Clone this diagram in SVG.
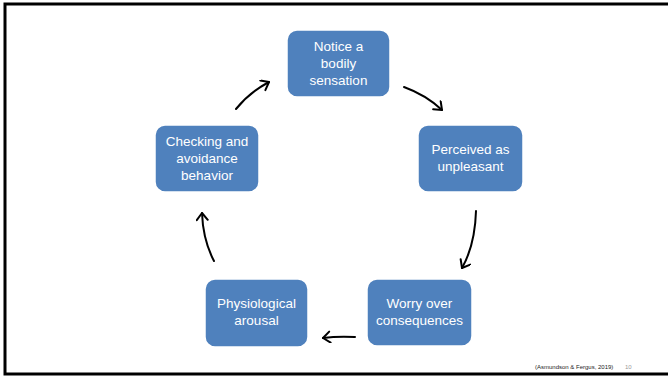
<svg xmlns="http://www.w3.org/2000/svg" width="668" height="378" viewBox="0 0 668 378">
<defs>
<style>
.box{fill:#4f81bd;stroke:#ffffff;stroke-width:1.5}
.lbl{font-family:"Liberation Sans",Arial,sans-serif;font-size:13.5px;fill:#ffffff;text-anchor:middle}
.arr{fill:none;stroke:#000000;stroke-width:2;stroke-linecap:round;marker-end:url(#ah)}
.foot{font-family:"Liberation Sans",Arial,sans-serif;font-size:6px;fill:#222222}
</style>
<marker id="ah" markerUnits="userSpaceOnUse" markerWidth="14" markerHeight="14" refX="9" refY="6" orient="auto">
<path d="M2,0.5 L9,6 L2,11.5" fill="none" stroke="#000000" stroke-width="2" stroke-linecap="round" stroke-linejoin="round"/>
</marker>
</defs>
<rect x="0" y="0" width="668" height="378" fill="#ffffff"/>
<rect x="5" y="4" width="700" height="370" fill="none" stroke="#000000" stroke-width="3"/>
<g id="n1"><rect class="box" x="287" y="30" width="103" height="67" rx="10"/>
<text class="lbl" x="338.5" y="51">Notice a</text><text class="lbl" x="338.5" y="68">bodily</text><text class="lbl" x="338.5" y="85">sensation</text></g>
<g id="n2"><rect class="box" x="418" y="125" width="105" height="67" rx="10"/>
<text class="lbl" x="470.5" y="154">Perceived as</text><text class="lbl" x="470.5" y="171">unpleasant</text></g>
<g id="n3"><rect class="box" x="367" y="279" width="105" height="67" rx="10"/>
<text class="lbl" x="419.5" y="308">Worry over</text><text class="lbl" x="419.5" y="325">consequences</text></g>
<g id="n4"><rect class="box" x="205" y="279" width="103" height="68" rx="10"/>
<text class="lbl" x="256.5" y="308">Physiological</text><text class="lbl" x="256.5" y="325">arousal</text></g>
<g id="n5"><rect class="box" x="155" y="125" width="104" height="67" rx="10"/>
<text class="lbl" x="207" y="146">Checking and</text><text class="lbl" x="207" y="163">avoidance</text><text class="lbl" x="207" y="180">behavior</text></g>
<g id="connectors">
<path class="arr" d="M404,87 Q426,95 442,110"/>
<path class="arr" d="M476,211 Q475,245 462,268"/>
<path class="arr" d="M355,337 Q338,336 323,338"/>
<path class="arr" d="M214,261 Q203,240 202,213"/>
<path class="arr" d="M236,109 Q250,92 269,82"/>
</g>
<text class="foot" x="535" y="369">(Asmundson &amp; Fergus, 2019)</text>
<text class="foot" x="625" y="369" style="fill:#999999">10</text>
</svg>
